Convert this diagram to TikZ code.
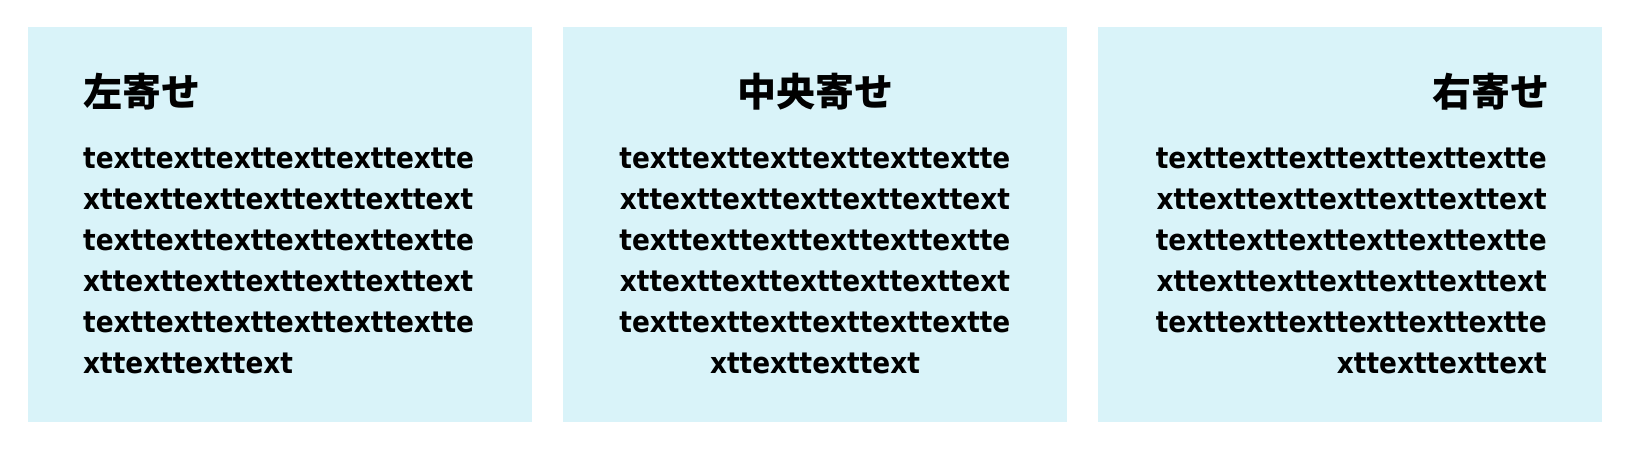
\documentclass[tikz,border=0pt]{standalone}
\usepackage{fontspec}
\setmainfont{DejaVu Sans Condensed Bold}
\newfontfamily\jpfont{Noto Sans CJK JP}
\definecolor{boxcyan}{RGB}{217,243,249}
\begin{document}
\begin{tikzpicture}[x=1pt,y=-1pt,
  panel/.style={fill=boxcyan, draw=none, inner sep=0, minimum width=504pt, minimum height=395pt, anchor=north west},
  head/.style={font=\jpfont\bfseries\fontsize{39}{39}\selectfont, inner sep=0},
  body/.style={font=\fontsize{29.3}{41}\selectfont, inner sep=0}]
\useasboundingbox (0,0) rectangle (1634,451);
\fill[white] (0,0) rectangle (1634,451);
\node[panel] (p1) at (28,27) {};
\node[panel] (p2) at (563,27) {};
\node[panel] (p3) at (1098,27) {};
\node[head, anchor=base west] (h1) at (83,106) {左寄せ};
\node[head, anchor=base] (h2) at (815,106) {中央寄せ};
\node[head, anchor=base east] (h3) at (1550,106) {右寄せ};
\foreach \t [count=\i] in {texttexttexttexttexttextte, xttexttexttexttexttexttext, texttexttexttexttexttextte, xttexttexttexttexttexttext, texttexttexttexttexttextte, xttexttexttext}{
  \node[body, anchor=base west] (a\i) at (83,{168+(\i-1)*41}) {\t};
  \node[body, anchor=base] (b\i) at (815,{168+(\i-1)*41}) {\t};
  \node[body, anchor=base east] (c\i) at (1547,{168+(\i-1)*41}) {\t};
}
\end{tikzpicture}
\end{document}
